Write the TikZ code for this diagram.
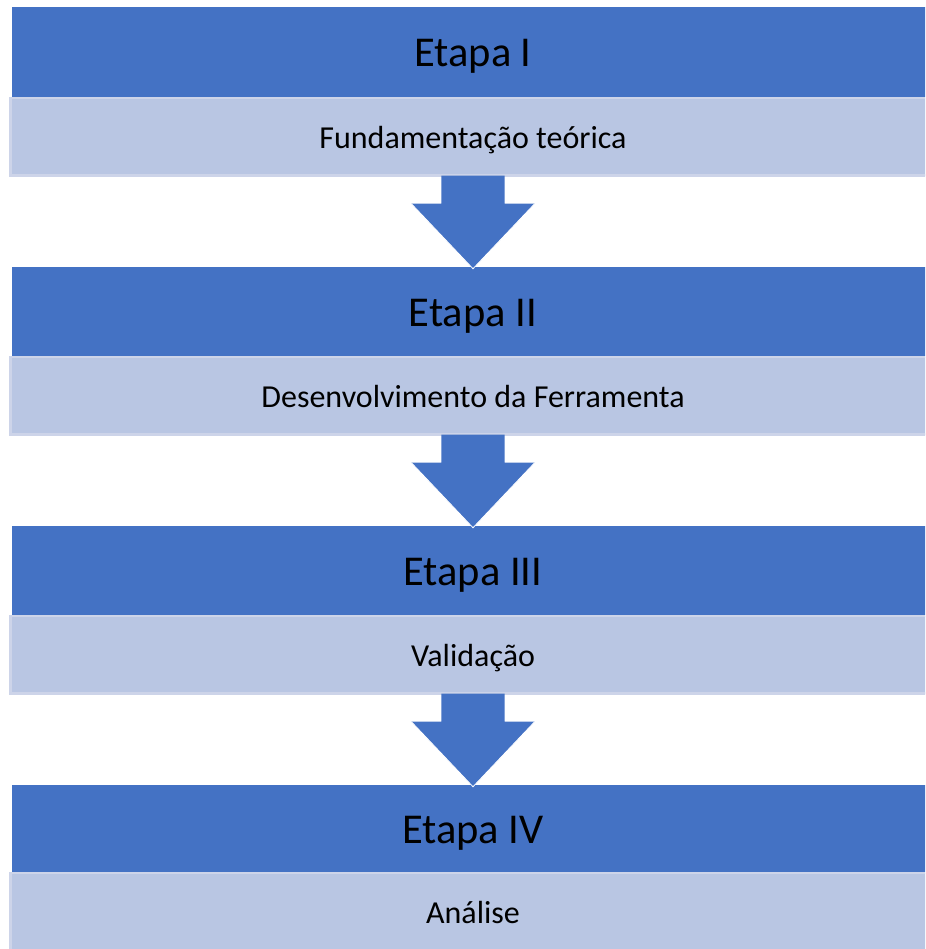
\documentclass[tikz,border=0pt]{standalone}
\usepackage{fontspec}
\setmainfont{Carlito}
\usetikzlibrary{calc}
\definecolor{darkblue}{RGB}{68,114,196}
\definecolor{lightblue}{RGB}{185,198,227}
\definecolor{lightedge}{RGB}{205,212,233}
\tikzset{
  stagebox/.style={fill=darkblue, draw=none, minimum width=922pt, inner sep=0pt, outer sep=0pt,
    anchor=north west, font=\fontsize{42.5}{50}\selectfont, text=black, text height=29.8pt, text depth=0pt},
  taskbox/.style={fill=lightblue, draw=lightedge, line width=2.5pt, minimum width=925.5pt, inner sep=0pt,
    outer sep=0pt, anchor=north west, font=\fontsize{32}{38}\selectfont, text=black, text height=23.6pt, text depth=0pt},
  downarrow/.style={fill=darkblue, draw=none},
  tipedge/.style={draw=white, line width=0.8pt}
}
\begin{document}
\begin{tikzpicture}[x=1pt,y=1pt]
\useasboundingbox (0,0) rectangle (925,949);
\clip (0,0) rectangle (925,949);
% stages (y = 949 - pixel row)
\node[stagebox, minimum height=89.4pt] (d1) at (12,941.7) {Etapa I};
\node[taskbox, minimum height=77.8pt] (l1) at (10.25,851.05) {Fundamenta\c{c}\~ao te\'orica};
\node[stagebox, minimum height=89.3pt] (d2) at (12,682.3) {Etapa II};
\node[taskbox, minimum height=77.5pt] (l2) at (10.25,591.75) {Desenvolvimento da Ferramenta};
\node[stagebox, minimum height=89pt] (d3) at (12,423) {Etapa III};
\node[taskbox, minimum height=77.5pt] (l3) at (10.25,332.75) {Valida\c{c}\~ao};
\node[stagebox, minimum height=86.7pt] (d4) at (12,164) {Etapa IV};
\node[taskbox, minimum height=77.5pt] (l4) at (10.25,76.05) {An\'alise};
% block arrows between stages
\foreach \a in {l1,l2,l3}{
  \begin{scope}[shift={(\a.south)}]
    \fill[downarrow] (-31.65,0) -- (31.65,0) -- (31.65,-28) -- (61.65,-28) -- (0,-93)
      -- (-61.65,-28) -- (-31.65,-28) -- cycle;
    \draw[tipedge] (61.65,-28) -- (0,-93) -- (-61.65,-28);
  \end{scope}
}
\end{tikzpicture}
\end{document}
